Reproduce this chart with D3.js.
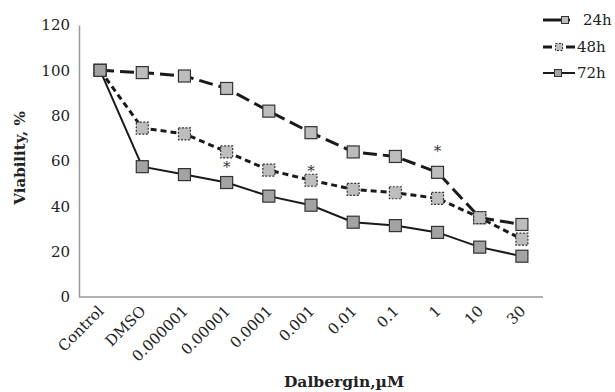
<!DOCTYPE html>
<html>
<head>
<meta charset="utf-8">
<script src="https://cdn.jsdelivr.net/npm/d3@7"></script>
<style>
  body { margin: 0; background: #fff; }
  text { font-family: "DejaVu Serif", serif; }
</style>
</head>
<body>
<div id="chart"></div>
<script>
const width = 615;
const height = 392;
const margin = { top: 25, right: 72, bottom: 95, left: 79 };

// data
const categories = ["Control", "DMSO", "0.000001", "0.00001", "0.0001", "0.001", "0.01", "0.1", "1", "10", "30"];
const values24h = [100, 99, 97.5, 92, 82, 72.5, 64, 62, 55, 35, 32];
const values48h = [100, 74.5, 72, 64, 56, 51.5, 47.5, 46, 43.5, 35, 25.5];
const values72h = [100, 57.5, 54, 50.5, 44.5, 40.5, 33, 31.5, 28.5, 22, 18];
const yTicks = [0, 20, 40, 60, 80, 100, 120];
// asterisks: [category, value at the star's baseline]
const stars = [["0.00001", 55], ["0.001", 53.5], ["1", 62]];

const series = [
  { name: "24h", values: values24h, dash: "14,6", width: 3, fill: "#bdbdbd", mdash: null },
  { name: "48h", values: values48h, dash: "6,4", width: 3, fill: "#bdbdbd", mdash: "2,1.5" },
  { name: "72h", values: values72h, dash: null, width: 2, fill: "#a3a3a3", mdash: null }
];

const svg = d3.select("#chart").append("svg")
  .attr("width", width)
  .attr("height", height);

const x = d3.scalePoint()
  .domain(categories)
  .range([margin.left, width - margin.right])
  .padding(0.5);

const y = d3.scaleLinear()
  .domain([0, 120])
  .range([height - margin.bottom, margin.top]);

// axes
const xAxis = svg.append("g")
  .attr("transform", `translate(0,${height - margin.bottom})`)
  .call(d3.axisBottom(x).tickSize(0).tickPadding(0));
xAxis.select(".domain").attr("stroke", "#999").attr("stroke-width", 1.5)
  .attr("d", `M${margin.left},0H${width - margin.right}`);
xAxis.selectAll("text")
  .attr("fill", "#222")
  .attr("font-size", 15)
  .attr("text-anchor", "end")
  .attr("dy", 0)
  .attr("transform", "translate(4,15) rotate(-45)");

const yAxis = svg.append("g")
  .attr("transform", `translate(${margin.left},0)`)
  .call(d3.axisLeft(y).tickValues(yTicks).tickSize(0).tickPadding(9));
yAxis.select(".domain").attr("stroke", "#999").attr("stroke-width", 1.5);
yAxis.selectAll("text").attr("fill", "#222").attr("font-size", 15);

// axis titles
svg.append("text")
  .attr("x", 344).attr("y", 387)
  .attr("text-anchor", "middle")
  .attr("font-size", 15.5).attr("font-weight", "bold").attr("fill", "#222")
  .text("Dalbergin,µM");

svg.append("text")
  .attr("transform", "translate(25,158) rotate(-90)")
  .attr("text-anchor", "middle")
  .attr("font-size", 15).attr("font-weight", "bold").attr("fill", "#222")
  .text("Viability, %");

// lines
const line = d3.line()
  .x((d, i) => x(categories[i]))
  .y(d => y(d));

series.forEach(s => {
  svg.append("path")
    .datum(s.values)
    .attr("fill", "none")
    .attr("stroke", "#1a1a1a")
    .attr("stroke-width", s.width)
    .attr("stroke-dasharray", s.dash)
    .attr("d", line);
});

// markers
const ms = 12;
series.forEach(s => {
  svg.append("g").selectAll("rect")
    .data(s.values)
    .join("rect")
    .attr("x", (d, i) => x(categories[i]) - ms / 2)
    .attr("y", d => y(d) - ms / 2)
    .attr("width", ms)
    .attr("height", ms)
    .attr("fill", s.fill)
    .attr("stroke", "#333")
    .attr("stroke-width", 1.2)
    .attr("stroke-dasharray", s.mdash);
});

// significance stars
svg.append("g").selectAll("text")
  .data(stars)
  .join("text")
  .attr("x", d => x(d[0]))
  .attr("y", d => y(d[1]))
  .attr("text-anchor", "middle")
  .attr("font-size", 15)
  .attr("fill", "#333")
  .text("*");

// legend
const legendX = 543;
const legendRows = [
  { y: 20, line: [[0, 27]], mark: 22, textX: 40 },
  { y: 47, line: [[0, 9], [23, 32]], mark: 16, textX: 34 },
  { y: 73, line: [[0, 32]], mark: 15, textX: 34 }
];
const legend = svg.append("g").attr("transform", `translate(${legendX},0)`);
series.forEach((s, i) => {
  const r = legendRows[i];
  const g = legend.append("g").attr("transform", `translate(0,${r.y})`);
  r.line.forEach(seg => {
    g.append("line")
      .attr("x1", seg[0]).attr("x2", seg[1])
      .attr("stroke", "#1a1a1a")
      .attr("stroke-width", s.width);
  });
  g.append("rect")
    .attr("x", r.mark - 3.5).attr("y", -3.5).attr("width", 7).attr("height", 7)
    .attr("fill", s.fill).attr("stroke", "#333").attr("stroke-width", 1)
    .attr("stroke-dasharray", s.mdash);
  g.append("text")
    .attr("x", r.textX).attr("y", 5)
    .attr("font-size", 15).attr("fill", "#222")
    .text(s.name);
});
</script>
</body>
</html>
